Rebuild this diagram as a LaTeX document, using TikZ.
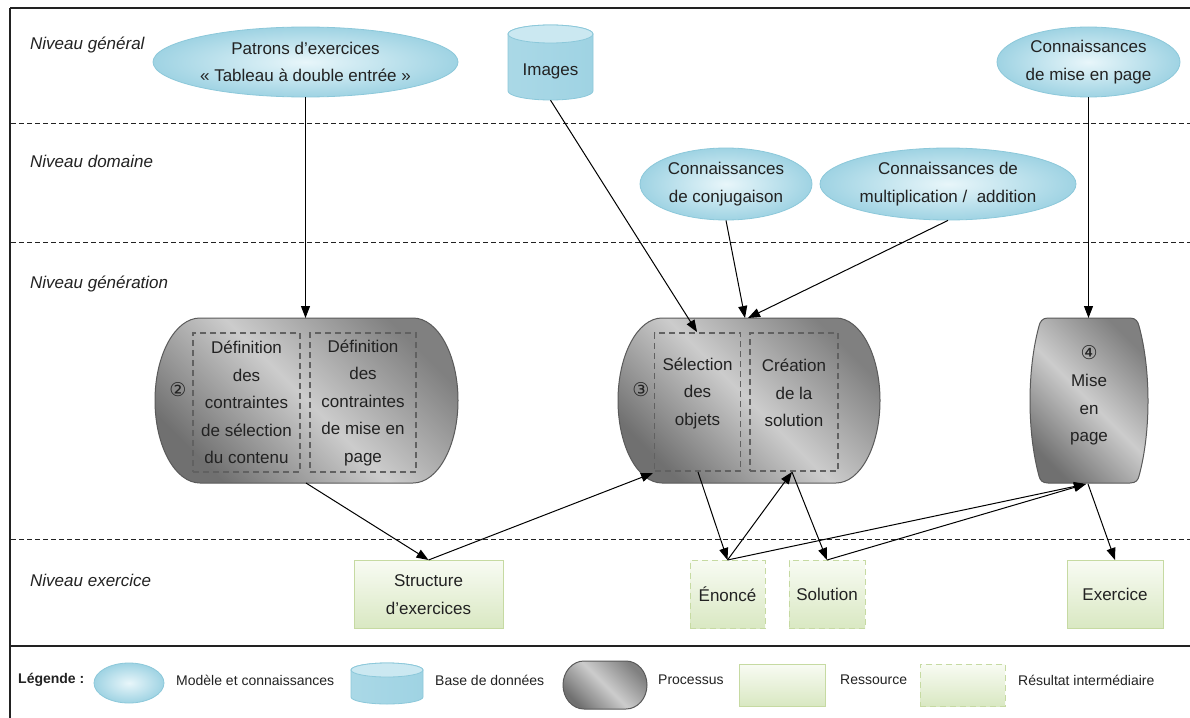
\documentclass[tikz,border=0pt]{standalone}
\usepackage{fontspec}
\setmainfont{Liberation Sans}
\newfontfamily\djv{DejaVu Sans}
\usetikzlibrary{arrows.meta,shapes.geometric}
\definecolor{ellL}{HTML}{E8F6FA}
\definecolor{ellD}{HTML}{9FD3E3}
\definecolor{ellB}{HTML}{8CC8DA}
\definecolor{grnB}{HTML}{C6DAA2}
\definecolor{grnT}{HTML}{F8FBF3}
\definecolor{grnBot}{HTML}{D9E8C2}
\definecolor{prB}{HTML}{5A5A5A}
\definecolor{ink}{HTML}{222222}
\begin{document}
\begin{tikzpicture}[x=1pt,y=-1pt,
  txt/.style={font=\fontsize{17}{27.5}\selectfont, align=center, text=ink, inner sep=0pt},
  lane/.style={font=\fontsize{17}{20}\selectfont\itshape, anchor=west, inner sep=0pt, text=ink},
  leg/.style={font=\fontsize{14}{16}\selectfont, anchor=west, inner sep=0pt, text=ink},
  num/.style={font=\djv\fontsize{19}{20}\selectfont, inner sep=0pt, text=ink},
  know/.style={ellipse, draw=ellB, line width=0.8pt, inner color=ellL, outer color=ellD, inner sep=0pt},
  dbbody/.style={draw=ellB, line width=0.8pt, left color=ellD!85!ellL, middle color=ellL, right color=ellD},
  dbtop/.style={draw=ellB, line width=0.8pt, fill=ellL!60!ellD},
  proc/.style={draw=prB, line width=1pt, top color=black!56, bottom color=black!50, middle color=black!20, shading angle=135},
  inbox/.style={draw=black!62, dashed, dash pattern=on 6pt off 4pt, line width=1.1pt, inner sep=0pt},
  res/.style={rectangle, draw=grnB, line width=1pt, top color=grnT, bottom color=grnBot, inner sep=0pt, txt},
  resd/.style={res, dashed, dash pattern=on 6pt off 4pt},
  frame/.style={line width=1.8pt, draw=ink},
  sep/.style={line width=1pt, draw=ink, dash pattern=on 5pt off 3pt},
  arr/.style={line width=1pt, draw=black, -{Triangle[length=12pt,width=9pt]}}
]
\useasboundingbox (0,0) rectangle (1190,717);
\fill[white] (0,0) rectangle (1190,717);

% frame and lane separators
\draw[frame] (10,8) -- (1192,8);
\draw[frame] (10,8) -- (10,720);
\draw[frame] (10,646) -- (1192,646);
\draw[sep] (11,123) -- (1190,123);
\draw[sep] (11,242) -- (1190,242);
\draw[sep] (11,539) -- (1190,539);

% lane labels
\node[lane] (l1) at (30,45) {Niveau général};
\node[lane] (l2) at (30,161) {Niveau domaine};
\node[lane] (l3) at (30,284) {Niveau génération};
\node[lane] (l4) at (30,580) {Niveau exercice};

% knowledge ellipses
\node[know, minimum width=305, minimum height=70] (pat) at (305.5,62) {};
\node[txt] (pat-t) at (pat) {Patrons d’exercices\\« Tableau à double entrée »};
\node[know, minimum width=183, minimum height=70] (mep) at (1088.5,62) {};
\node[txt] (mep-t) at (mep) {Connaissances\\de mise en page};
\node[know, minimum width=172, minimum height=72] (conj) at (726,184) {};
\node[txt] (conj-t) at (conj) {Connaissances\\de conjugaison};
\node[know, minimum width=256, minimum height=72] (mult) at (948,184) {};
\node[txt] (mult-t) at (mult) {Connaissances de\\multiplication /~~addition};

% Images database
\draw[dbbody] (508,34) -- (508,91) arc[start angle=180,end angle=360,x radius=42.5pt,y radius=9pt] -- (593,34) arc[start angle=0,end angle=180,x radius=42.5pt,y radius=9pt] -- cycle;
\draw[dbtop] (550.5,34) ellipse[x radius=42.5pt,y radius=9pt];
\node[inner sep=0pt, minimum width=85, minimum height=75] (img) at (550.5,62.5) {};
\node[txt] (img-t) at (550.5,71) {Images};

% Process 2
\draw[proc] (200,318) -- (413,318) arc[start angle=90,end angle=-90,x radius=45pt,y radius=82.5pt] -- (200,483) arc[start angle=-90,end angle=-270,x radius=45pt,y radius=82.5pt] -- cycle;
\node[inbox, minimum width=107, minimum height=139] (p2a) at (246.5,402.5) {};
\node[inbox, minimum width=106, minimum height=139] (p2b) at (363,402.5) {};
\node[txt] (p2a-t) at (p2a) {Définition\\des\\contraintes\\de sélection\\du contenu};
\node[txt] (p2b-t) at (p2b) {Définition\\des\\contraintes\\de mise en\\page};
\node[num] (n2) at (178,390) {②};

% Process 3
\draw[proc] (662,318) -- (836,318) arc[start angle=90,end angle=-90,x radius=44pt,y radius=82.5pt] -- (662,483) arc[start angle=-90,end angle=-270,x radius=44pt,y radius=82.5pt] -- cycle;
\node[inbox, minimum width=86, minimum height=138] (p3a) at (697.5,402) {};
\node[inbox, minimum width=88, minimum height=138] (p3b) at (794,402) {};
\node[txt] (p3a-t) at (697.5,393) {Sélection\\des\\objets};
\node[txt] (p3b-t) at (794,393) {Création\\de la\\solution};
\node[num] (n3) at (641,390) {③};

% Process 4 (barrel)
\draw[proc] (1048,318) -- (1130,318) .. controls (1136,318) and (1138,322) .. (1139,326)
  .. controls (1151,370) and (1151,432) .. (1139,476)
  .. controls (1138,480) and (1136,483) .. (1130,483) -- (1048,483)
  .. controls (1042,483) and (1040,480) .. (1039,476)
  .. controls (1027,432) and (1027,370) .. (1039,326)
  .. controls (1040,322) and (1042,318) .. (1048,318) -- cycle;
\node[num] (n4) at (1089,353) {④};
\node[txt] (p4-t) at (1089,410) {Mise\\en\\page};

% resources
\node[res, minimum width=149, minimum height=68] (struct) at (428.5,594.5) {Structure\\d’exercices};
\node[resd, minimum width=75, minimum height=68] (enonce) at (727.5,594.5) {Énoncé};
\node[resd, minimum width=76, minimum height=68] (sol) at (827,594.5) {Solution};
\node[res, minimum width=96, minimum height=68] (exo) at (1115,594.5) {Exercice};

% anchor points on processes
\coordinate (p2n) at (305.5,318);
\coordinate (p2s) at (306,483);
\coordinate (p3img) at (697,332);
\coordinate (p3n1) at (745,318);
\coordinate (p3n2) at (748,318);
\coordinate (p3w) at (653,473);
\coordinate (p3s1) at (698,472);
\coordinate (p3s2) at (792,472);
\coordinate (p4n) at (1088.5,318);
\coordinate (p4s) at (1086,484);
\coordinate (p4s2) at (1088,484);

% connectors
\draw[arr] (pat.south) -- (p2n);
\draw[arr] (img.south) -- (p3img);
\draw[arr] (conj.south) -- (p3n1);
\draw[arr] (mult.south) -- (p3n2);
\draw[arr] (mep.south) -- (p4n);
\draw[arr] (p2s) -- (struct.north);
\draw[arr] (struct.north) -- (p3w);
\draw[arr] (p3s1) -- (enonce.north);
\draw[arr] (enonce.north) -- (p3s2);
\draw[arr] (p3s2) -- (sol.north);
\draw[arr] (enonce.north) -- (p4s);
\draw[arr] (sol.north) -- (p4s);
\draw[arr] (p4s2) -- (exo.north);

% legend
\node[leg, font=\fontsize{14}{16}\selectfont\bfseries] (lg) at (18,680) {Légende :};
\node[know, minimum width=70, minimum height=40] (lg-ell) at (129,683) {};
\node[leg] (lg-ell-t) at (176,680) {Modèle et connaissances};
\draw[dbbody] (351,670) -- (351,697) arc[start angle=180,end angle=360,x radius=36pt,y radius=7pt] -- (423,670) arc[start angle=0,end angle=180,x radius=36pt,y radius=7pt] -- cycle;
\draw[dbtop] (387,670) ellipse[x radius=36pt,y radius=7pt];
\node[leg] (lg-db-t) at (435,680) {Base de données};
\draw[proc] (584,661) -- (626,661) arc[start angle=90,end angle=-90,x radius=21pt,y radius=24pt] -- (584,709) arc[start angle=-90,end angle=-270,x radius=21pt,y radius=24pt] -- cycle;
\node[leg] (lg-pr-t) at (658,680) {Processus};
\node[res, minimum width=86, minimum height=42] (lg-res) at (782,685) {};
\node[leg] (lg-res-t) at (840,680) {Ressource};
\node[resd, minimum width=85, minimum height=42] (lg-resd) at (962.5,685) {};
\node[leg] (lg-resd-t) at (1018,680) {Résultat intermédiaire};
\end{tikzpicture}
\end{document}
